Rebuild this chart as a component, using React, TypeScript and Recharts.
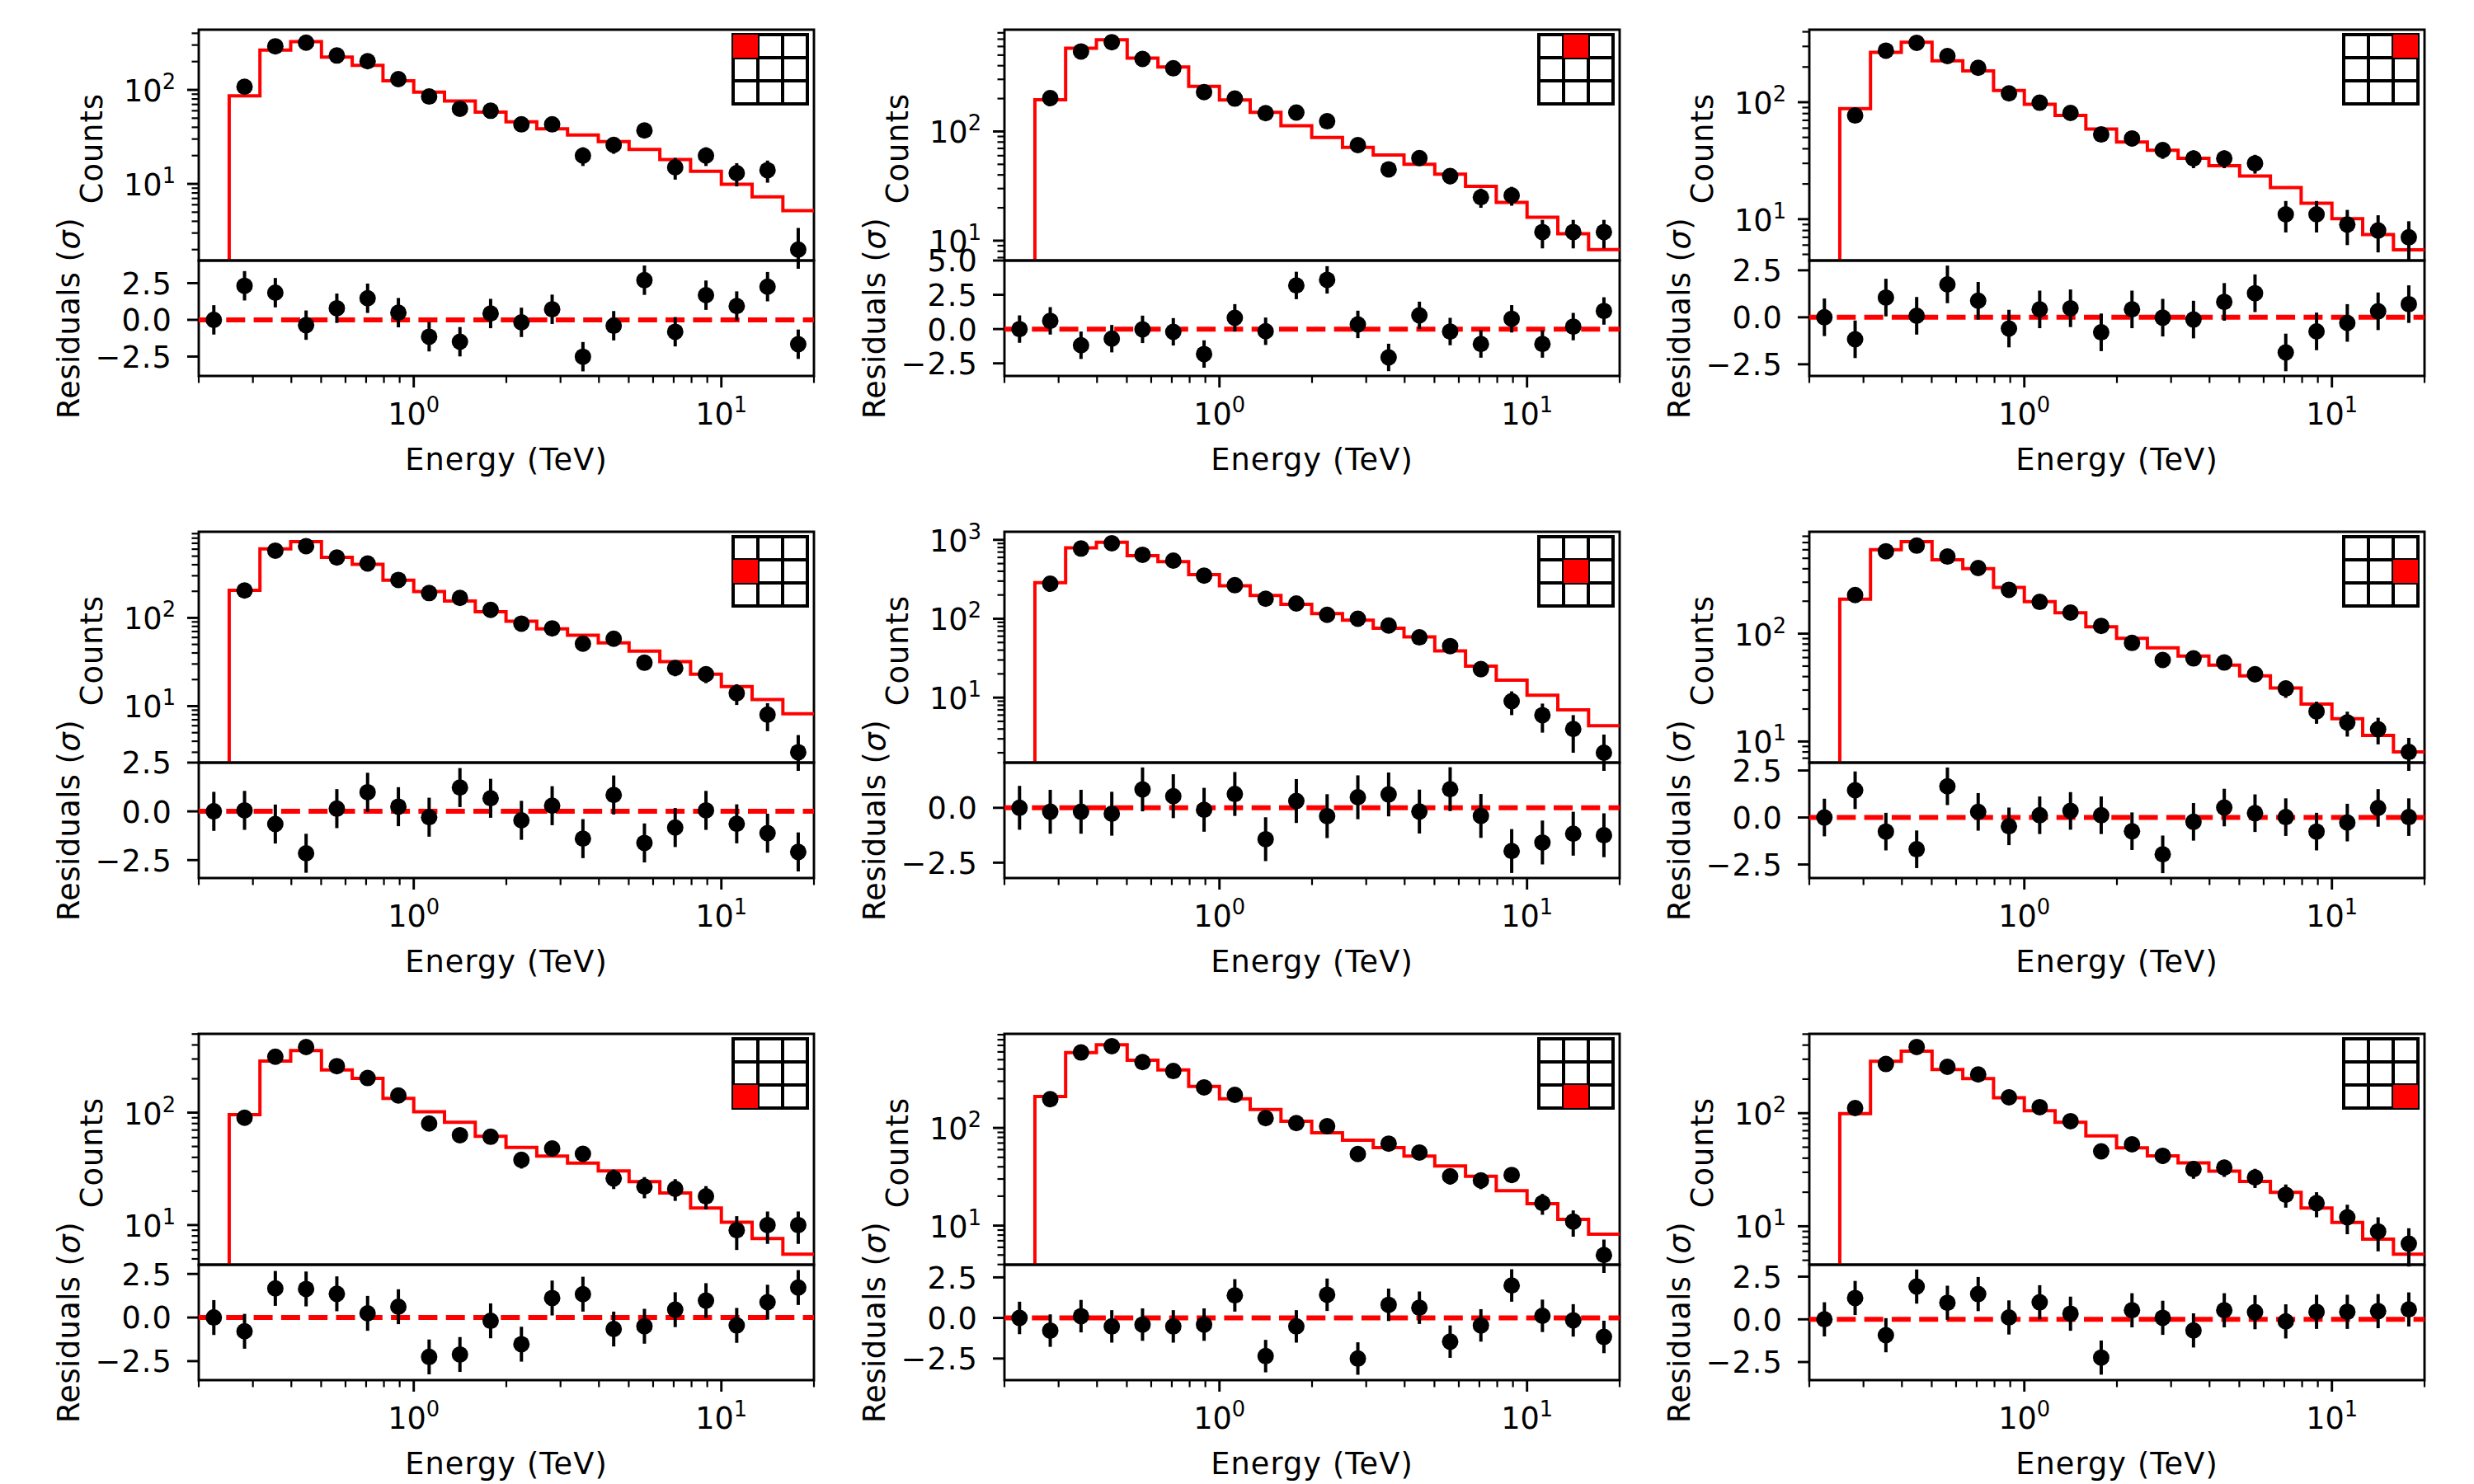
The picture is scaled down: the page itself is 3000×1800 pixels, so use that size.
import { ComposedChart, ErrorBar, Line, ReferenceArea, Scatter, XAxis, YAxis } from 'recharts';

const centers = [0.2239, 0.2818, 0.3548, 0.4467, 0.5623, 0.7079, 0.8913, 1.122, 1.413, 1.778, 2.239, 2.818, 3.548, 4.467, 5.623, 7.079, 8.913, 11.22, 14.13, 17.78];
const edges = [0.2512, 0.3162, 0.3981, 0.5012, 0.631, 0.7943, 1, 1.259, 1.585, 1.995, 2.512, 3.162, 3.981, 5.012, 6.31, 7.943, 10, 12.59, 15.85, 20];

const counts1 = [108, 291, 318, 232, 202, 130, 85, 63, 60, 43, 43, 20, 26, 37, 15, 20, 13, 14, 2];
const counts2 = [202, 540, 657, 461, 379, 229, 200, 147, 149, 124, 75, 45, 57, 39, 25, 26, 12, 12, 12];
const counts3 = [77, 276, 322, 248, 197, 119, 99, 81, 53, 49, 39, 33, 33, 30, 11, 11, 9, 8, 7];
const counts4 = [204, 577, 650, 482, 413, 269, 191, 168, 123, 86, 76, 51, 58, 31, 27, 23, 14, 8, 3];
const counts5 = [278, 776, 906, 647, 545, 352, 266, 179, 156, 112, 100, 82, 58, 45, 23, 9, 6, 4, 2];
const counts6 = [228, 581, 655, 519, 406, 255, 197, 157, 118, 82, 57, 59, 54, 42, 31, 19, 15, 13, 8];
const counts7 = [90, 314, 383, 259, 203, 142, 80, 63, 61, 38, 48, 43, 26, 22, 21, 18, 9, 10, 10];
const counts8 = [197, 592, 687, 472, 382, 260, 218, 126, 112, 104, 54, 69, 56, 32, 29, 33, 17, 11, 5];
const counts9 = [111, 272, 385, 257, 220, 138, 113, 85, 46, 53, 42, 32, 33, 27, 19, 16, 12, 9, 7];

const errs1 = [10.4, 17.1, 17.8, 15.2, 14.2, 11.4, 9.2, 7.9, 7.7, 6.6, 6.6, 4.5, 5.1, 6.1, 3.9, 4.5, 3.6, 3.7, 1.4];
const errs2 = [14.2, 23.2, 25.6, 21.5, 19.5, 15.1, 14.1, 12.1, 12.2, 11.1, 8.7, 6.7, 7.5, 6.2, 5, 5.1, 3.5, 3.5, 3.5];
const errs3 = [8.8, 16.6, 17.9, 15.7, 14, 10.9, 9.9, 9, 7.3, 7, 6.2, 5.7, 5.7, 5.5, 3.3, 3.3, 3, 2.8, 2.6];
const errs4 = [14.3, 24, 25.5, 22, 20.3, 16.4, 13.8, 13, 11.1, 9.3, 8.7, 7.1, 7.6, 5.6, 5.2, 4.8, 3.7, 2.8, 1.7];
const errs5 = [16.7, 27.9, 30.1, 25.4, 23.3, 18.8, 16.3, 13.4, 12.5, 10.6, 10, 9.1, 7.6, 6.7, 4.8, 3, 2.4, 2, 1.4];
const errs6 = [15.1, 24.1, 25.6, 22.8, 20.1, 16, 14, 12.5, 10.9, 9.1, 7.5, 7.7, 7.3, 6.5, 5.6, 4.4, 3.9, 3.6, 2.8];
const errs7 = [9.5, 17.7, 19.6, 16.1, 14.2, 11.9, 8.9, 7.9, 7.8, 6.2, 6.9, 6.6, 5.1, 4.7, 4.6, 4.2, 3, 3.2, 3.2];
const errs8 = [14, 24.3, 26.2, 21.7, 19.5, 16.1, 14.8, 11.2, 10.6, 10.2, 7.3, 8.3, 7.5, 5.7, 5.4, 5.7, 4.1, 3.3, 2.2];
const errs9 = [10.5, 16.5, 19.6, 16, 14.8, 11.7, 10.6, 9.2, 6.8, 7.3, 6.5, 5.7, 5.7, 5.2, 4.4, 4, 3.5, 3, 2.6];

const model1 = [86.6, 265, 326, 223, 182, 125, 94.8, 76, 58, 45.8, 38.6, 33.1, 28.2, 23.2, 18.2, 13.6, 9.9, 7.3, 5.2];
const model2 = [195, 577, 692, 470, 389, 259, 194, 150, 113, 88, 71.6, 61, 50, 40.7, 31.5, 22.4, 16.4, 11.6, 8.27];
const model3 = [88, 267, 326, 226, 185, 126, 96, 77, 59, 45.7, 38.9, 33.2, 28.7, 23.4, 18.6, 13.7, 10.1, 7.4, 5.46];
const model4 = [205, 605, 729, 486, 404, 267, 199, 155, 117, 91.5, 75, 63.5, 52, 42, 32, 23, 16.7, 11.9, 8.2];
const model5 = [286, 790, 931, 630, 530, 362, 261, 197, 152, 116, 95.6, 76, 59, 39, 25, 16.6, 10.7, 7, 4.4];
const model6 = [209, 600, 713, 485, 400, 269, 198, 156, 116, 90.6, 74, 62, 51, 40.6, 31.3, 22.2, 16.3, 11.4, 8];
const model7 = [96, 287, 357, 240, 202, 134, 102, 82, 61.5, 49, 41, 35.6, 30.3, 24.3, 19.3, 14.2, 10.6, 7.6, 5.5];
const model8 = [210, 591, 711, 492, 393, 266, 199, 154, 117, 89, 75, 62.7, 51.4, 40.7, 32, 22.8, 16.8, 11.6, 8.15];
const model9 = [99, 288, 353, 243, 202, 137, 105, 83, 63, 49.4, 41.9, 36.4, 30.7, 24.9, 19.9, 14.5, 10.8, 7.7, 5.66];

const resid1 = [0, 2.32, 1.85, -0.36, 0.79, 1.47, 0.49, -1.15, -1.49, 0.43, -0.17, 0.72, -2.51, -0.4, 2.7, -0.81, 1.68, 0.94, 2.26, -1.66];
const resid2 = [0, 0.6, -1.18, -0.7, -0.02, -0.2, -1.82, 0.82, -0.16, 3.18, 3.59, 0.34, -2.07, 1, -0.18, -1.09, 0.75, -1.09, 0.18, 1.32];
const resid3 = [0, -1.17, 1.05, 0.08, 1.75, 0.88, -0.6, 0.42, 0.48, -0.8, 0.42, -0.02, -0.12, 0.82, 1.28, -1.87, -0.75, -0.3, 0.32, 0.7];
const resid4 = [0, 0.05, -0.65, -2.15, 0.14, 0.98, 0.24, -0.3, 1.22, 0.67, -0.46, 0.29, -1.4, 0.84, -1.62, -0.83, 0.05, -0.64, -1.12, -2.08];
const resid5 = [0, -0.18, -0.18, -0.27, 0.84, 0.53, -0.09, 0.63, -1.43, 0.31, -0.38, 0.48, 0.61, -0.17, 0.85, -0.37, -1.97, -1.58, -1.18, -1.25];
const resid6 = [0, 1.45, -0.75, -1.69, 1.66, 0.3, -0.47, 0.12, 0.35, 0.12, -0.73, -1.96, -0.23, 0.53, 0.23, 0.02, -0.75, -0.27, 0.51, 0.02];
const resid7 = [0, -0.79, 1.67, 1.64, 1.36, 0.24, 0.62, -2.26, -2.12, -0.19, -1.53, 1.12, 1.34, -0.66, -0.5, 0.45, 0.97, -0.45, 0.88, 1.72];
const resid8 = [0, -0.78, 0.11, -0.52, -0.41, -0.52, -0.41, 1.39, -2.35, -0.52, 1.43, -2.5, 0.81, 0.63, -1.46, -0.46, 2, 0.13, -0.15, -1.17];
const resid9 = [0, 1.25, -0.93, 1.92, 0.97, 1.48, 0.11, 1, 0.33, -2.24, 0.53, 0.09, -0.65, 0.53, 0.42, -0.12, 0.44, 0.44, 0.48, 0.58];

const countDomains = [[1.53, 437], [6.58, 855], [4.43, 417], [2.29, 945], [1.5, 1266], [6.37, 881], [4.44, 502], [3.98, 918], [4.57, 503]];
const residDomains = [[-3.82, 4.04], [-3.42, 5], [-3.12, 3.02], [-3.42, 2.5], [-3.2, 2.06], [-3.22, 2.92], [-3.59, 3.03], [-3.83, 3.28], [-3.56, 3.2]];

const allCounts = [counts1, counts2, counts3, counts4, counts5, counts6, counts7, counts8, counts9];
const allErrs = [errs1, errs2, errs3, errs4, errs5, errs6, errs7, errs8, errs9];
const allModels = [model1, model2, model3, model4, model5, model6, model7, model8, model9];
const allResids = [resid1, resid2, resid3, resid4, resid5, resid6, resid7, resid8, resid9];

const energyTicks = [0.2, 0.3, 0.4, 0.5, 0.6, 0.7, 0.8, 0.9, 1, 2, 3, 4, 5, 6, 7, 8, 9, 10, 20];
const countTicks = [2, 3, 4, 5, 6, 7, 8, 9, 10, 20, 30, 40, 50, 60, 70, 80, 90, 100, 200, 300, 400, 500, 600, 700, 800, 900, 1000];
const residTicks = [-2.5, 0, 2.5, 5];
const decadeLabels: Record<number, string> = { 1: '0', 10: '1', 100: '2', 1000: '3' };

const ENERGY_DOMAIN = [0.2, 20];
const MODEL_FLOOR = 1;
const RESID_ERR = 1;

const COL_LEFT = [241, 1217.5, 2194];
const ROW_TOP = [36, 645, 1254];
const PLOT_W = 746;
const COUNT_H = 280;
const RESID_H = 140;
const LEFT = 200;
const RIGHT = 20;
const FONT = '"DejaVu Sans"';
const FS = 36.67;
const SUP = 25.7;
// the reference's glyph advances come out a little wider than the browser's
const TRACK = 1.1;

const Dot = (props: any) => <circle cx={props.cx} cy={props.cy} r={10} fill="#000" />;

const CountTick = ({ x, y, payload }: any) => {
  const major = decadeLabels[payload.value];
  return (
    <g>
      <line x1={x} x2={x - (major ? 14 : 8.5)} y1={y} y2={y} stroke="#000" strokeWidth={major ? 2.9 : 2.2} />
      {major && (
        <text x={x - 28} y={y + 14} textAnchor="end" fontFamily={FONT} fontSize={FS} fill="#000">
          10<tspan dy={-15} fontSize={SUP}>{major}</tspan>
        </text>
      )}
    </g>
  );
};

const ResidTick = ({ x, y, payload }: any) => (
  <g>
    <line x1={x} x2={x - 14} y1={y} y2={y} stroke="#000" strokeWidth={2.9} />
    <text x={x - 32} y={y + 13.4} textAnchor="end" fontFamily={FONT} fontSize={FS} letterSpacing={TRACK} fill="#000">
      {payload.value.toFixed(1).replace('-', '\u2212')}
    </text>
  </g>
);

const EnergyTick = ({ x, y, payload }: any) => {
  const major = decadeLabels[payload.value];
  return (
    <g>
      <line x1={x} x2={x} y1={y} y2={y + (major ? 14 : 8.5)} stroke="#000" strokeWidth={major ? 2.9 : 2.2} />
      {major && (
        <text x={x} y={y + 59} textAnchor="middle" fontFamily={FONT} fontSize={FS} fill="#000">
          10<tspan dy={-15} fontSize={SUP}>{major}</tspan>
        </text>
      )}
    </g>
  );
};

const YTitle = ({ viewBox, gap, shift, track, title }: any) => {
  const x = viewBox.x + viewBox.width - gap;
  const y = viewBox.y + viewBox.height / 2 + shift;
  return (
    <text x={x} y={y} transform={`rotate(-90 ${x} ${y})`} textAnchor="middle" fontFamily={FONT} fontSize={FS} letterSpacing={track} fill="#000">
      {title}
    </text>
  );
};

const XTitle = ({ viewBox }: any) => (
  <text x={viewBox.x + viewBox.width / 2} y={viewBox.y + 114} textAnchor="middle" fontFamily={FONT} fontSize={FS} letterSpacing={TRACK} fill="#000">
    Energy (TeV)
  </text>
);

const Inset = ({ left, top, row, col }: { left: number; top: number; row: number; col: number }) => (
  <svg width={96} height={96} style={{ position: 'absolute', left, top }}>
    <rect x={2} y={2} width={90} height={84} fill="#fff" stroke="#000" strokeWidth={4} />
    <line x1={32} x2={32} y1={2} y2={86} stroke="#000" strokeWidth={4} />
    <line x1={62} x2={62} y1={2} y2={86} stroke="#000" strokeWidth={4} />
    <line x1={2} x2={92} y1={30} y2={30} stroke="#000" strokeWidth={4} />
    <line x1={2} x2={92} y1={58} y2={58} stroke="#000" strokeWidth={4} />
    <rect x={2 + col * 30} y={2 + row * 28} width={30} height={28} fill="#f00" />
  </svg>
);

const Panel = ({ index }: { index: number }) => {
  const col = index % 3;
  const row = Math.floor(index / 3);
  const left = COL_LEFT[col];
  const top = ROW_TOP[row];
  const countDomain = countDomains[index];
  const residDomain = residDomains[index];
  const width = LEFT + PLOT_W + RIGHT;

  const countRows = allCounts[index].map((y, i) => ({ x: centers[i + 1], y, err: allErrs[index][i] }));
  const modelRows = [
    { x: edges[0], y: MODEL_FLOOR },
    ...allModels[index].map((y, i) => ({ x: edges[i], y })),
    { x: edges[edges.length - 1], y: allModels[index][allModels[index].length - 1] },
  ];
  const residRows = allResids[index].map((y, i) => ({ x: centers[i], y, err: RESID_ERR }));
  const zeroRows = [{ x: ENERGY_DOMAIN[0], y: 0 }, { x: ENERGY_DOMAIN[1], y: 0 }];

  return (
    <>
      <div style={{ position: 'absolute', left: left - LEFT, top: top - 20 }}>
        <ComposedChart width={width} height={20 + COUNT_H + 10} margin={{ top: 20, right: RIGHT, bottom: 10, left: 0 }}>
          <XAxis type="number" dataKey="x" scale="log" domain={ENERGY_DOMAIN} allowDataOverflow hide />
          <YAxis
            type="number"
            dataKey="y"
            scale="log"
            domain={countDomain}
            allowDataOverflow
            width={LEFT}
            ticks={countTicks.filter((t) => t >= countDomain[0] && t <= countDomain[1])}
            interval={0}
            tick={<CountTick />}
            tickLine={false}
            axisLine={false}
            tickSize={0}
            tickMargin={0}
            label={<YTitle gap={117} shift={4} track={TRACK} title="Counts" />}
          />
          <Line data={modelRows} dataKey="y" type="stepAfter" stroke="#f00" strokeWidth={4} strokeLinejoin="miter" dot={false} activeDot={false} isAnimationActive={false} />
          <Scatter data={countRows} dataKey="y" shape={Dot} isAnimationActive={false}>
            <ErrorBar dataKey="err" direction="y" width={0} stroke="#000" strokeWidth={4} isAnimationActive={false} />
          </Scatter>
          <ReferenceArea x1={ENERGY_DOMAIN[0]} x2={ENERGY_DOMAIN[1]} y1={countDomain[0]} y2={countDomain[1]} fill="none" stroke="#000" strokeWidth={2.9} ifOverflow="visible" />
        </ComposedChart>
      </div>
      <Inset left={left + PLOT_W - 100} top={top + 4} row={row} col={col} />
      <div style={{ position: 'absolute', left: left - LEFT, top: top + COUNT_H - 140 }}>
        <ComposedChart width={width} height={140 + RESID_H + 130} margin={{ top: 140, right: RIGHT, bottom: 0, left: 0 }}>
          <XAxis
            type="number"
            dataKey="x"
            scale="log"
            domain={ENERGY_DOMAIN}
            allowDataOverflow
            height={130}
            ticks={energyTicks}
            interval={0}
            tick={<EnergyTick />}
            tickLine={false}
            axisLine={false}
            tickSize={0}
            tickMargin={0}
            label={<XTitle />}
          />
          <YAxis
            type="number"
            dataKey="y"
            domain={residDomain}
            allowDataOverflow
            width={LEFT}
            ticks={residTicks.filter((t) => t >= residDomain[0] && t <= residDomain[1])}
            interval={0}
            tick={<ResidTick />}
            tickLine={false}
            axisLine={false}
            tickSize={0}
            tickMargin={0}
            label={
              <YTitle
                gap={145}
                shift={0}
                track={0.5}
                title={
                  <>
                    Residuals (<tspan fontStyle="italic">σ</tspan>)
                  </>
                }
              />
            }
          />
          <Line data={zeroRows} dataKey="y" stroke="#f00" strokeWidth={6} strokeDasharray="23 10.3" dot={false} activeDot={false} isAnimationActive={false} />
          <Scatter data={residRows} dataKey="y" shape={Dot} isAnimationActive={false}>
            <ErrorBar dataKey="err" direction="y" width={0} stroke="#000" strokeWidth={4} isAnimationActive={false} />
          </Scatter>
          <ReferenceArea x1={ENERGY_DOMAIN[0]} x2={ENERGY_DOMAIN[1]} y1={residDomain[0]} y2={residDomain[1]} fill="none" stroke="#000" strokeWidth={2.9} ifOverflow="visible" />
        </ComposedChart>
      </div>
    </>
  );
};

const App = () => (
  <div style={{ position: 'absolute', left: 0, top: 0, width: 3000, height: 1800, background: '#fff', overflow: 'hidden' }}>
    {allCounts.map((_, i) => (
      <Panel key={i} index={i} />
    ))}
  </div>
);

export default App;
